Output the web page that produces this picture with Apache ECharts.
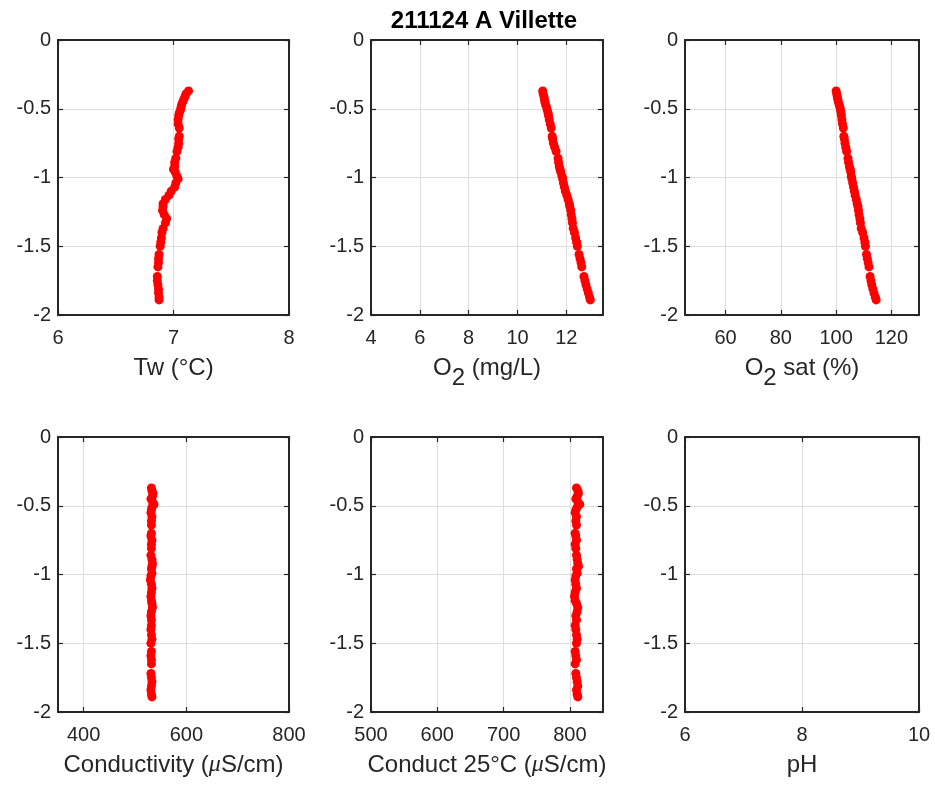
<!DOCTYPE html>
<html>
<head>
<meta charset="utf-8">
<script src="https://cdn.jsdelivr.net/npm/echarts@6/dist/echarts.min.js"></script>
<style>
html,body{margin:0;padding:0;background:#fff;}
#chart{width:935px;height:785px;}
</style>
</head>
<body>
<div id="chart"></div>
<script>
// ---- data ----
const titleText = '211124 A Villette';
const depth = [-0.37,-0.39,-0.41,-0.43,-0.45,-0.47,-0.49,-0.51,-0.53,-0.55,-0.58,-0.61,-0.64,
  -0.70,-0.72,-0.75,-0.78,-0.81,-0.86,-0.89,-0.92,-0.94,-0.96,-0.99,-1.01,-1.04,-1.07,-1.10,
  -1.13,-1.16,-1.19,-1.21,-1.24,-1.27,-1.30,-1.33,-1.37,-1.40,-1.44,-1.47,-1.50,-1.56,-1.59,
  -1.62,-1.65,-1.72,-1.75,-1.78,-1.81,-1.84,-1.87,-1.89];
const tw = [7.13,7.11,7.10,7.09,7.08,7.07,7.065,7.06,7.05,7.045,7.04,7.04,7.05,
  7.05,7.045,7.045,7.04,7.03,7.02,7.01,7.01,7.00,7.015,7.03,7.04,7.02,7.01,6.98,
  6.96,6.93,6.91,6.91,6.905,6.92,6.94,6.93,6.91,6.90,6.895,6.89,6.885,6.875,6.87,
  6.87,6.865,6.86,6.86,6.865,6.87,6.87,6.875,6.875];
const o2 = [11.03,11.05,11.08,11.10,11.12,11.15,11.19,11.22,11.25,11.27,11.30,11.34,11.38,
  11.42,11.44,11.47,11.52,11.58,11.66,11.68,11.71,11.74,11.77,11.82,11.85,11.88,11.92,11.96,
  12.02,12.07,12.12,12.14,12.18,12.20,12.23,12.25,12.28,12.33,12.38,12.42,12.45,12.52,12.56,
  12.60,12.63,12.72,12.76,12.80,12.85,12.90,12.95,12.98];
const o2sat = [100.0,100.2,100.4,100.6,100.8,101.1,101.4,101.6,101.8,101.9,102.1,102.3,102.6,
  102.8,103.0,103.2,103.5,103.8,104.3,104.5,104.8,105.1,105.3,105.5,105.7,106.0,106.3,106.6,
  106.9,107.3,107.6,107.9,108.1,108.3,108.6,108.8,109.1,109.6,110.1,110.4,110.6,111.0,111.3,
  111.6,111.9,112.3,112.6,112.9,113.3,113.7,114.2,114.5];
const cond = [532,533,535,534,531,534,537,533,532,531,533,532,532,
  532,531,533,532,532,531,533,534,533,532,533,531,530,532,533,
  532,531,532,533,534,532,531,532,532,531,532,533,531,532,531,
  532,532,531,532,533,532,531,532,533];
const cond25 = [810,812,813,811,809,812,815,811,809,808,810,809,810,
  808,809,810,808,809,810,811,812,813,810,811,809,808,809,810,
  808,807,808,810,812,811,809,810,808,809,810,811,810,808,809,
  810,808,809,810,811,812,810,811,812];
const ph = [];

const yTicks = [0,-0.5,-1,-1.5,-2];
const twTicks = [6,7,8];
const o2Ticks = [4,6,8,10,12];
const o2satTicks = [60,80,100,120];
const condTicks = [400,600,800];
const cond25Ticks = [500,600,700,800];
const phTicks = [6,8,10];

// ---- layout/style ----
const panels = [
  {vals: tw, ticks: twTicks, min: 6, max: 8, name: '{t|Tw (°C)}', left: 58, top: 40, width: 231},
  {vals: o2, ticks: o2Ticks, min: 4, max: 13.5, name: '{t|O}{s|2}{t| (mg/L)}', left: 371, top: 40, width: 232},
  {vals: o2sat, ticks: o2satTicks, min: 45.3, max: 130, name: '{t|O}{s|2}{t| sat (%)}', left: 685, top: 40, width: 234},
  {vals: cond, ticks: condTicks, min: 350, max: 800, name: '{t|Conductivity (}{m|μ}{t|S/cm)}', left: 58, top: 437, width: 231},
  {vals: cond25, ticks: cond25Ticks, min: 500, max: 850, name: '{t|Conduct 25°C (}{m|μ}{t|S/cm)}', left: 371, top: 437, width: 232},
  {vals: ph, ticks: phTicks, min: 6, max: 10, name: '{t|pH}', left: 685, top: 437, width: 234}
];
const axisColor = '#262626';
const gridColor = '#dedede';
const font = 'Liberation Sans, Arial, Helvetica, sans-serif';
const tickFont = 20;
const nameFont = 24;
const lineW = 2;

const grid = [], xAxis = [], yAxis = [], series = [];
panels.forEach((p, i) => {
  grid.push({left: p.left, top: p.top, width: p.width, height: 275, containLabel: false});
  const common = {
    type: 'value', gridIndex: i, min: p.min, max: p.max,
    axisLine: {show: true, onZero: false, lineStyle: {color: axisColor, width: lineW}},
    axisTick: {show: true, inside: true, length: 5, customValues: p.ticks, lineStyle: {color: axisColor, width: 1.2}},
  };
  xAxis.push(Object.assign({}, common, {
    position: 'bottom',
    axisLabel: {show: true, customValues: p.ticks, margin: 13, fontSize: tickFont, color: axisColor, fontFamily: font},
    splitLine: {show: true, lineStyle: {color: gridColor, width: 1}},
    name: p.name, nameLocation: 'middle', nameGap: 41, nameMoveOverlap: false,
    nameTextStyle: {
      color: axisColor, fontSize: nameFont, fontFamily: font,
      rich: {
        t: {fontSize: nameFont, fontFamily: font, color: axisColor, verticalAlign: 'top'},
        s: {fontSize: nameFont, fontFamily: font, color: axisColor, padding: [10,0,0,0], verticalAlign: 'bottom'},
        m: {fontSize: nameFont, fontFamily: 'Liberation Serif, DejaVu Serif, serif', fontStyle: 'italic', color: axisColor, verticalAlign: 'top'}
      }
    }
  }));
  xAxis.push(Object.assign({}, common, {
    position: 'top', axisLabel: {show: false}, splitLine: {show: false}
  }));
  const ycommon = {
    type: 'value', gridIndex: i, min: -2, max: 0,
    axisLine: {show: true, onZero: false, lineStyle: {color: axisColor, width: lineW}},
    axisTick: {show: true, inside: true, length: 5, customValues: yTicks, lineStyle: {color: axisColor, width: 1.2}}
  };
  yAxis.push(Object.assign({}, ycommon, {
    position: 'left',
    axisLabel: {show: true, customValues: yTicks, margin: 7, fontSize: tickFont, color: axisColor, fontFamily: font},
    splitLine: {show: true, lineStyle: {color: gridColor, width: 1}}
  }));
  yAxis.push(Object.assign({}, ycommon, {
    position: 'right', axisLabel: {show: false}, splitLine: {show: false}
  }));
  series.push({
    type: 'scatter', xAxisIndex: 2 * i, yAxisIndex: 2 * i,
    data: p.vals.map((v, k) => [v, depth[k]]),
    symbol: 'circle', symbolSize: 9,
    itemStyle: {color: '#ff0000', opacity: 1},
    silent: true, animation: false
  });
});

const chart = echarts.init(document.getElementById('chart'), null, {renderer: 'canvas'});
chart.setOption({
  backgroundColor: '#ffffff',
  animation: false,
  title: {
    text: titleText, left: 479, top: 4, textAlign: 'center',
    textStyle: {fontSize: 24, fontWeight: 'bold', color: '#000', fontFamily: font}
  },
  grid, xAxis, yAxis, series
});
</script>
</body>
</html>
